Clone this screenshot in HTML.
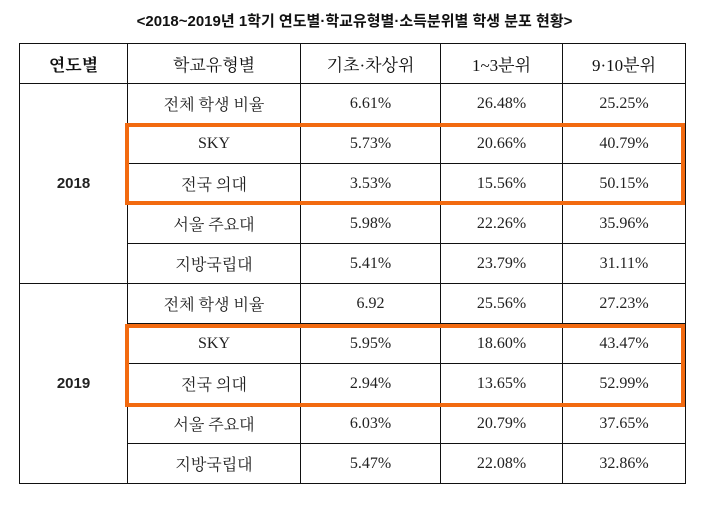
<!DOCTYPE html>
<html><head><meta charset="utf-8"><style>
body{margin:0;width:709px;height:508px;background:#fff;position:relative;overflow:hidden;font-family:"Liberation Serif","Noto Serif CJK SC",serif;color:#222}
.t{position:absolute;top:10px;left:0;width:709px;text-align:center;font:bold 15px "Liberation Sans","Noto Sans CJK KR",sans-serif;color:#111}
table{position:absolute;left:19px;top:43px;border-collapse:collapse}
td{border:1.3px solid #111;text-align:center;height:39px;padding:0;font-size:16px}
tr.h td{font-size:17px;color:#111}
td.y{font:bold 15px "Liberation Sans",sans-serif}
.o{position:absolute;border:4px solid #f26a10;box-sizing:border-box}
</style></head><body>
<div class="t">&lt;2018~2019년 1학기 연도별·학교유형별·소득분위별 학생 분포 현황&gt;</div>
<table>
<colgroup><col style="width:108px"><col style="width:173px"><col style="width:140px"><col style="width:122px"><col style="width:123px"></colgroup>
<tr class="h"><td style="font-weight:bold">연도별</td><td>학교유형별</td><td>기초·차상위</td><td>1~3분위</td><td>9·10분위</td></tr>
<tr><td class="y" rowspan="5">2018</td><td>전체 학생 비율</td><td>6.61%</td><td>26.48%</td><td>25.25%</td></tr>
<tr><td>SKY</td><td>5.73%</td><td>20.66%</td><td>40.79%</td></tr>
<tr><td>전국 의대</td><td>3.53%</td><td>15.56%</td><td>50.15%</td></tr>
<tr><td>서울 주요대</td><td>5.98%</td><td>22.26%</td><td>35.96%</td></tr>
<tr><td>지방국립대</td><td>5.41%</td><td>23.79%</td><td>31.11%</td></tr>
<tr><td class="y" rowspan="5">2019</td><td>전체 학생 비율</td><td>6.92</td><td>25.56%</td><td>27.23%</td></tr>
<tr><td>SKY</td><td>5.95%</td><td>18.60%</td><td>43.47%</td></tr>
<tr><td>전국 의대</td><td>2.94%</td><td>13.65%</td><td>52.99%</td></tr>
<tr><td>서울 주요대</td><td>6.03%</td><td>20.79%</td><td>37.65%</td></tr>
<tr><td>지방국립대</td><td>5.47%</td><td>22.08%</td><td>32.86%</td></tr>
</table>
<div class="o" style="left:125px;top:123px;width:560px;height:82px"></div>
<div class="o" style="left:125px;top:324px;width:560px;height:83px"></div>
</body></html>
